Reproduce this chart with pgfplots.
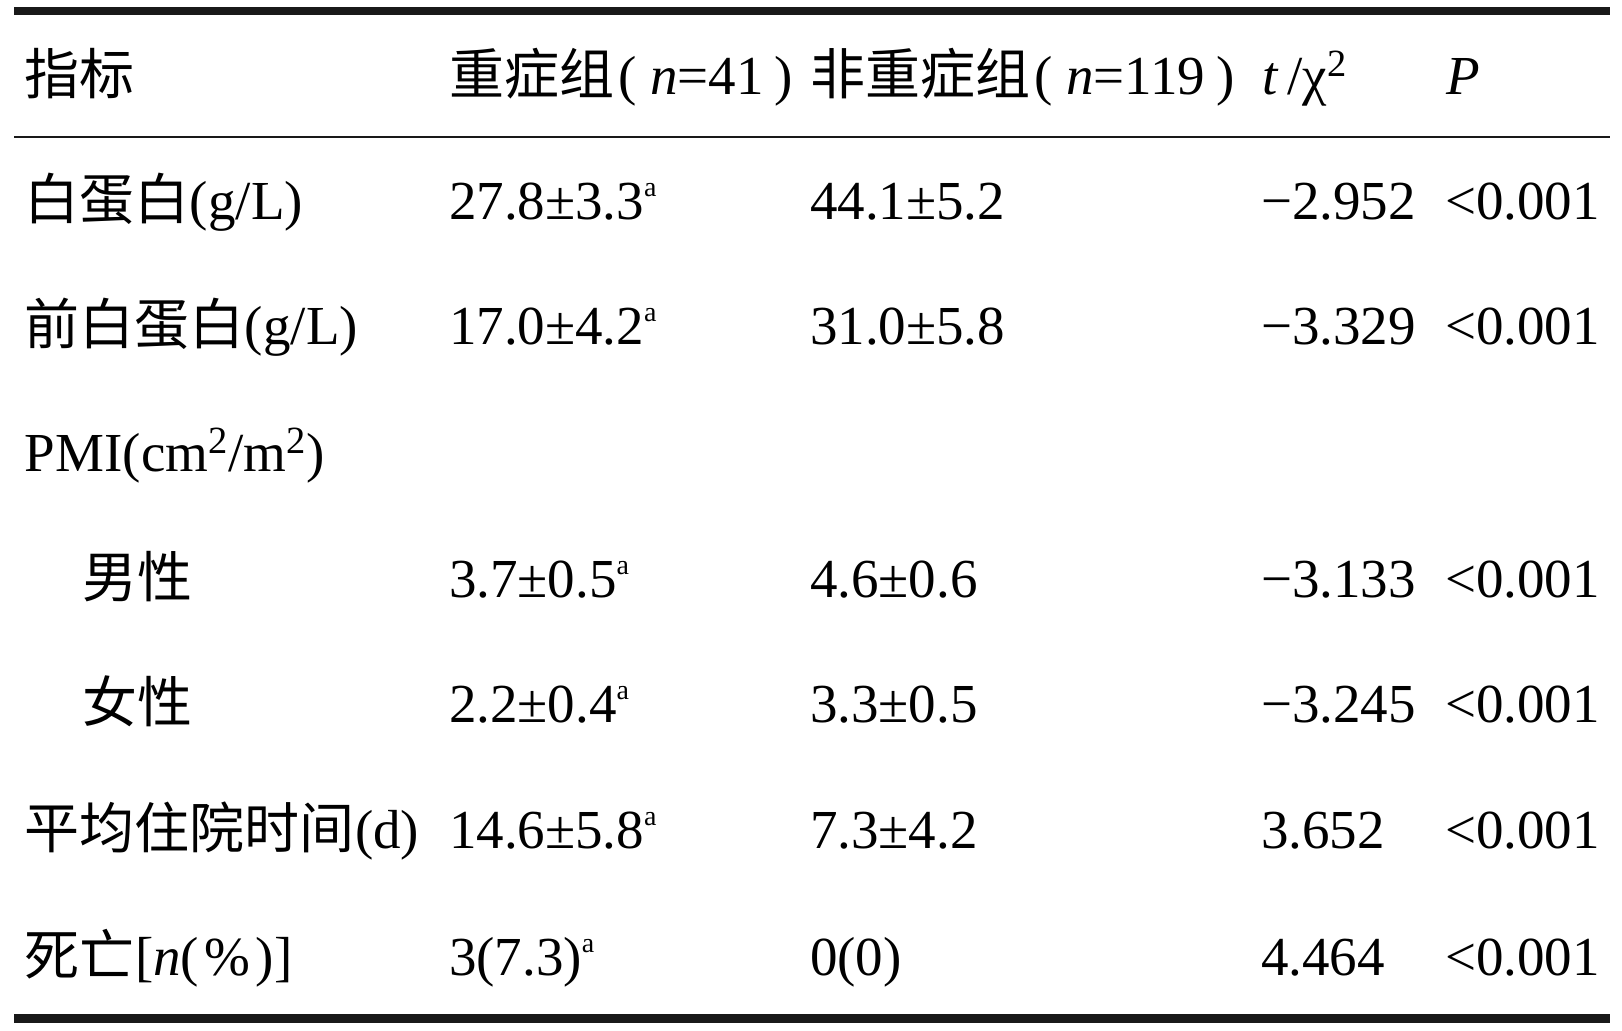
\documentclass[border=0pt]{standalone}
\usepackage{fontspec}
\setmainfont{Liberation Serif}
\newfontfamily\cjk{Noto Sans CJK SC}
\usepackage{pgfplots}
\pgfplotsset{compat=1.18}
\newcommand{\tf}{\fontsize{27.5pt}{33pt}\selectfont}
\newcommand{\sa}{\raisebox{11.5pt}{\fontsize{14pt}{14pt}\selectfont a}}
\tikzset{cell/.style={anchor=base west, inner sep=0pt, outer sep=0pt, font=\tf}}
\begin{document}
\begin{tikzpicture}
\begin{axis}[
  width=811pt, height=515.5pt, scale only axis,
  xmin=0, xmax=1622, ymin=0, ymax=1031, y dir=reverse,
  hide axis, clip=false,
]
\addplot[draw=none, no marks] coordinates {(0,0) (1622,1031)};
% rules
\addplot[line width=4.1pt, no marks, black!90] coordinates {(14,11) (1610,11)};
\addplot[line width=1pt, no marks, black!90] coordinates {(14,137) (1610,137)};
\addplot[line width=4.1pt, no marks, black!90] coordinates {(14,1018.5) (1610,1018.5)};
% header
\node[cell] at (axis cs:25,95) {\cjk 指标};
\node[cell] at (axis cs:449,95) {{\cjk 重症组}\hspace{0.08em}(\hspace{0.25em}\textit{n}=41\hspace{0.2em})};
\node[cell] at (axis cs:810,95) {{\cjk 非重症组}\hspace{0.08em}(\hspace{0.25em}\textit{n}=119\hspace{0.2em})};
\node[cell] at (axis cs:1262,95) {\textit{t}\,/χ\textsuperscript{2}};
\node[cell] at (axis cs:1446,95) {\textit{P}};
% column 1
\node[cell] at (axis cs:25,220) {{\cjk 白蛋白}(g/L)};
\node[cell] at (axis cs:25,345) {{\cjk 前白蛋白}(g/L)};
\node[cell] at (axis cs:25,472) {PMI(cm\textsuperscript{2}/m\textsuperscript{2})};
\node[cell] at (axis cs:82,597) {\cjk 男性};
\node[cell] at (axis cs:82,722) {\cjk 女性};
\node[cell] at (axis cs:25,848) {{\cjk 平均住院时间}(d)};
\node[cell] at (axis cs:25,975) {{\cjk 死亡}[\textit{n}(\hspace{0.1em}\%\hspace{0.1em})]};
% column 2
\node[cell] at (axis cs:449,220) {27.8±3.3\sa};
\node[cell] at (axis cs:449,345) {17.0±4.2\sa};
\node[cell] at (axis cs:449,597) {3.7±0.5\sa};
\node[cell] at (axis cs:449,722) {2.2±0.4\sa};
\node[cell] at (axis cs:449,848) {14.6±5.8\sa};
\node[cell] at (axis cs:449,975) {3(7.3)\sa};
% column 3
\node[cell] at (axis cs:810,220) {44.1±5.2};
\node[cell] at (axis cs:810,345) {31.0±5.8};
\node[cell] at (axis cs:810,597) {4.6±0.6};
\node[cell] at (axis cs:810,722) {3.3±0.5};
\node[cell] at (axis cs:810,848) {7.3±4.2};
\node[cell] at (axis cs:810,975) {0(0)};
% column 4
\node[cell] at (axis cs:1261,220) {−2.952};
\node[cell] at (axis cs:1261,345) {−3.329};
\node[cell] at (axis cs:1261,597) {−3.133};
\node[cell] at (axis cs:1261,722) {−3.245};
\node[cell] at (axis cs:1261,848) {3.652};
\node[cell] at (axis cs:1261,975) {4.464};
% column 5
\node[cell] at (axis cs:1445,220) {<0.001};
\node[cell] at (axis cs:1445,345) {<0.001};
\node[cell] at (axis cs:1445,597) {<0.001};
\node[cell] at (axis cs:1445,722) {<0.001};
\node[cell] at (axis cs:1445,848) {<0.001};
\node[cell] at (axis cs:1445,975) {<0.001};
\end{axis}
\end{tikzpicture}
\end{document}
